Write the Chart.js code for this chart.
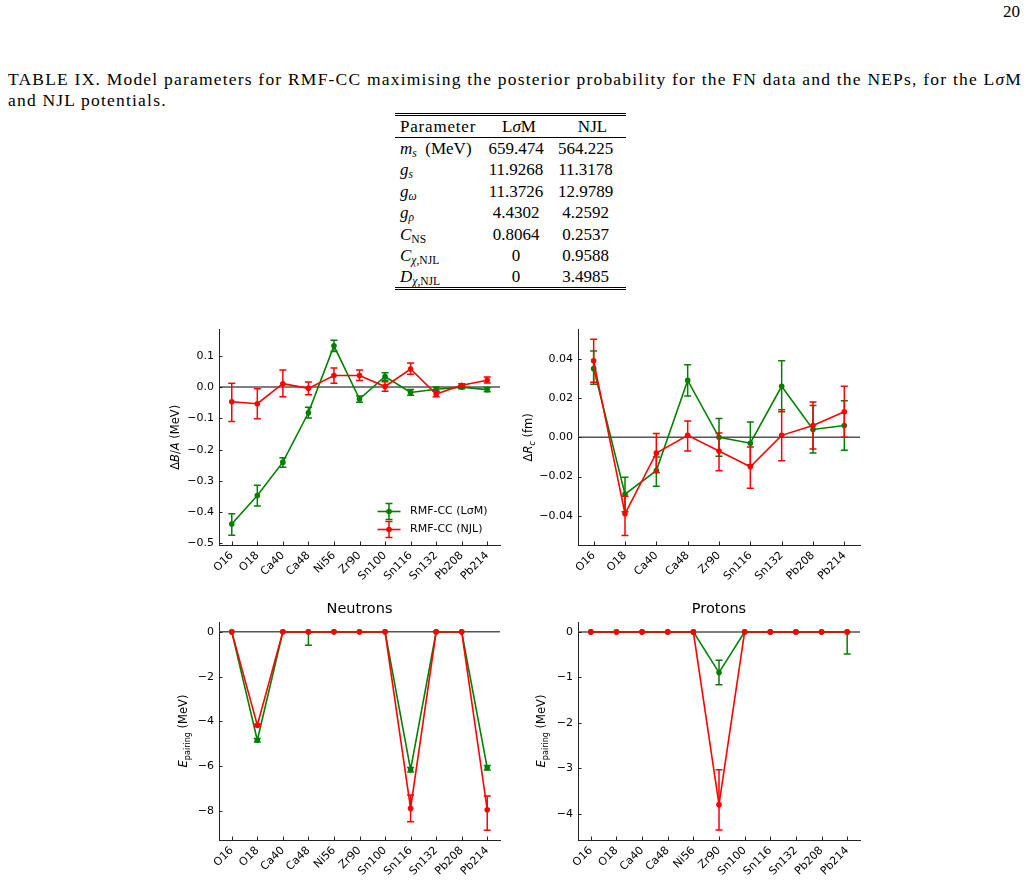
<!DOCTYPE html>
<html>
<head>
<meta charset="utf-8">
<script src="https://cdn.jsdelivr.net/npm/chart.js@4.4.1/dist/chart.umd.min.js"></script>
<style>
  body { margin: 0; background: #fff; width: 1028px; height: 882px; overflow: hidden; position: relative; font-family: "Liberation Serif", serif; color: #000; }
  .pg { position: absolute; right: 8px; top: 2px; font-size: 17px; }
  .cap { position: absolute; left: 8px; width: 1014px; font-size: 17.5px; line-height: 20px; letter-spacing: 1.2px; white-space: nowrap; }
  .l1 { top: 69px; text-align: justify; text-align-last: justify; white-space: normal; }
  .l2 { top: 90px; }
  table { position: absolute; left: 395px; top: 113px; width: 231px; border-collapse: collapse; font-size: 17px; border-top: 3px double #000; border-bottom: 3px double #000; }
  td, th { padding: 0; font-weight: normal; white-space: nowrap; line-height: 1; }
  thead tr { height: 23px; border-bottom: 1px solid #000; }
  tbody tr { height: 21.5px; }
  td.p, th.p { text-align: left; padding-left: 5px; }
  td.n, th.n { text-align: center; }
  sub { font-size: 68%; vertical-align: -0.3em; line-height: 0; }
  canvas { position: absolute; }
</style>
</head>
<body>
<div class="pg">20</div>
<div class="cap l1">TABLE IX. Model parameters for RMF-CC maximising the posterior probability for the FN data and the NEPs, for the L<i>σ</i>M</div>
<div class="cap l2">and NJL potentials.</div>

<table id="params">
  <colgroup><col style="width:92px"><col style="width:58px"><col style="width:81px"></colgroup>
  <thead><tr><th class="p" style="letter-spacing:0.8px">Parameter</th><th class="n" style="padding-left:6px">L<i>σ</i>M</th><th class="n" style="padding-left:14px">NJL</th></tr></thead>
  <tbody></tbody>
</table>

<canvas id="cBA" width="360" height="280" style="left:150px;top:318px"></canvas>
<canvas id="cRc" width="360" height="280" style="left:510px;top:318px"></canvas>
<canvas id="cNeu" width="360" height="292" style="left:150px;top:590px"></canvas>
<canvas id="cPro" width="360" height="292" style="left:510px;top:590px"></canvas>

<script>
// table values
const paramNames = [
  '<i>m<sub>s</sub></i>&nbsp; (MeV)', '<i>g<sub>s</sub></i>', '<i>g<sub>ω</sub></i>', '<i>g<sub>ρ</sub></i>',
  '<i>C</i><sub>NS</sub>', '<i>C</i><sub><i>χ</i>,NJL</sub>', '<i>D</i><sub><i>χ</i>,NJL</sub>'
];
const paramLsm = ['659.474', '11.9268', '11.3726', '4.4302', '0.8064', '0', '0'];
const paramNjl = ['564.225', '11.3178', '12.9789', '4.2592', '0.2537', '0.9588', '3.4985'];

// categories
const nuclei = ['O16', 'O18', 'Ca40', 'Ca48', 'Ni56', 'Zr90', 'Sn100', 'Sn116', 'Sn132', 'Pb208', 'Pb214'];
const nucleiRc = ['O16', 'O18', 'Ca40', 'Ca48', 'Zr90', 'Sn116', 'Sn132', 'Pb208', 'Pb214'];

// Delta B/A (MeV)
const baLsm   = [-0.438, -0.347, -0.240, -0.082, 0.132, -0.038, 0.034, -0.017, -0.007, 0.000, -0.008];
const baLsmLo = [0.036, 0.033, 0.016, 0.017, 0.018, 0.010, 0.012, 0.009, 0.007, 0.005, 0.007];
const baLsmHi = [0.033, 0.033, 0.014, 0.018, 0.018, 0.010, 0.012, 0.009, 0.007, 0.005, 0.007];
const baNjl   = [-0.047, -0.053, 0.011, -0.004, 0.037, 0.037, 0.002, 0.058, -0.022, 0.006, 0.022];
const baNjlLo = [0.063, 0.048, 0.042, 0.020, 0.025, 0.016, 0.015, 0.017, 0.009, 0.005, 0.009];
const baNjlHi = [0.059, 0.048, 0.044, 0.020, 0.024, 0.018, 0.015, 0.019, 0.009, 0.005, 0.010];

// Delta R_c (fm)
const rcLsm   = [0.035, -0.029, -0.017, 0.029, 0.000, -0.003, 0.026, 0.004, 0.006];
const rcLsmLo = [0.008, 0.009, 0.008, 0.008, 0.0096, 0.011, 0.013, 0.012, 0.0126];
const rcLsmHi = [0.009, 0.0086, 0.007, 0.008, 0.0096, 0.0108, 0.013, 0.0122, 0.0126];
const rcNjl   = [0.039, -0.039, -0.008, 0.001, -0.007, -0.015, 0.001, 0.006, 0.013];
const rcNjlLo = [0.011, 0.011, 0.010, 0.008, 0.010, 0.011, 0.013, 0.012, 0.013];
const rcNjlHi = [0.011, 0.009, 0.010, 0.0073, 0.0092, 0.010, 0.013, 0.012, 0.013];

// E_pairing neutrons (MeV)
const neuLsm   = [0, -4.84, 0, 0, 0, 0, 0, -6.15, 0, 0, -6.07];
const neuLsmLo = [0, 0.08, 0, 0.6, 0, 0, 0, 0.1, 0, 0, 0.1];
const neuLsmHi = [0, 0.08, 0, 0, 0, 0, 0, 0.1, 0, 0, 0.1];
const neuNjl   = [0, -4.17, 0, 0, 0, 0, 0, -7.88, 0, 0, -7.94];
const neuNjlLo = [0, 0.05, 0, 0, 0, 0, 0, 0.6, 0, 0, 0.91];
const neuNjlHi = [0, 0.05, 0, 0, 0, 0, 0, 0.6, 0, 0, 0.61];

// E_pairing protons (MeV)
const proLsm   = [0, 0, 0, 0, 0, -0.895, 0, 0, 0, 0, 0];
const proLsmLo = [0, 0, 0, 0, 0, 0.27, 0, 0, 0, 0, 0.485];
const proLsmHi = [0, 0, 0, 0, 0, 0.27, 0, 0, 0, 0, 0];
const proNjl   = [0, 0, 0, 0, 0, -3.80, 0, 0, 0, 0, 0];
const proNjlLo = [0, 0, 0, 0, 0, 0.56, 0, 0, 0, 0, 0];
const proNjlHi = [0, 0, 0, 0, 0, 0.77, 0, 0, 0, 0, 0];

// y tick values
const ticksBA = [-0.5, -0.4, -0.3, -0.2, -0.1, 0, 0.1];
const ticksRc = [-0.04, -0.02, 0, 0.02, 0.04];
const ticksNeu = [-8, -6, -4, -2, 0];
const ticksPro = [-4, -3, -2, -1, 0];

const seriesNames = ['RMF-CC (LσM)', 'RMF-CC (NJL)'];

// fill table
const tbody = document.querySelector('#params tbody');
paramNames.forEach((name, i) => {
  const tr = document.createElement('tr');
  tr.innerHTML = '<td class="p">' + name + '</td><td class="n">' + paramLsm[i] + '</td><td class="n">' + paramNjl[i] + '</td>';
  tbody.appendChild(tr);
});

const GREEN = '#008000';
const RED = '#ff0000';
const SANS = '"DejaVu Sans", sans-serif';

function fmt(v, dec) {
  if (Math.abs(v) < 1e-9) return (0).toFixed(dec);
  return (v < 0 ? '\u2212' : '') + Math.abs(v).toFixed(dec);
}

function drawErrorBar(ctx, x, yl, yh, color) {
  ctx.strokeStyle = color;
  ctx.lineWidth = 1.5;
  ctx.beginPath();
  ctx.moveTo(x, yl); ctx.lineTo(x, yh);
  ctx.moveTo(x - 3.5, yl); ctx.lineTo(x + 3.5, yl);
  ctx.moveTo(x - 3.5, yh); ctx.lineTo(x + 3.5, yh);
  ctx.stroke();
}

function drawRich(ctx, segs, cx, cy, size) {
  const fontFor = s => (s[1] === 'i' || s[1] === 'isub' ? 'italic ' : '') +
    (s[1].endsWith('sub') ? size * 0.7 : size) + 'px ' + SANS;
  ctx.save();
  ctx.translate(cx, cy);
  ctx.rotate(-Math.PI / 2);
  let total = 0;
  segs.forEach(s => { ctx.font = fontFor(s); total += ctx.measureText(s[0]).width; });
  let x = -total / 2;
  ctx.textBaseline = 'alphabetic';
  ctx.textAlign = 'left';
  ctx.fillStyle = '#000';
  segs.forEach(s => {
    ctx.font = fontFor(s);
    const dy = size * 0.36 + (s[1].endsWith('sub') ? size * 0.22 : 0);
    ctx.fillText(s[0], x, dy);
    x += ctx.measureText(s[0]).width;
  });
  ctx.restore();
}

function decorPlugin(cfg) {
  return {
    id: 'decor',
    beforeDatasetsDraw(chart) {
      const { ctx, chartArea: a } = chart;
      const y0 = chart.scales.y.getPixelForValue(0);
      ctx.save();
      ctx.strokeStyle = '#555';
      ctx.lineWidth = 1.5;
      ctx.beginPath();
      ctx.moveTo(a.left, y0); ctx.lineTo(a.right, y0);
      ctx.stroke();
      ctx.restore();
    },
    beforeDatasetDraw(chart, args) {
      const ds = chart.data.datasets[args.index];
      const y = chart.scales.y;
      const ctx = chart.ctx;
      ctx.save();
      args.meta.data.forEach((pt, i) => {
        const lo = ds.errLo[i], hi = ds.errHi[i];
        if (!lo && !hi) return;
        const v = ds.data[i];
        drawErrorBar(ctx, pt.x, y.getPixelForValue(v - lo), y.getPixelForValue(v + hi), ds.borderColor);
      });
      ctx.restore();
    },
    afterDraw(chart) {
      const { ctx, chartArea: a, scales: { x, y } } = chart;
      ctx.save();
      // inward ticks
      ctx.strokeStyle = '#222';
      ctx.lineWidth = 1;
      ctx.beginPath();
      y.ticks.forEach(t => {
        const py = Math.round(y.getPixelForValue(t.value)) + 0.5;
        ctx.moveTo(a.left, py); ctx.lineTo(a.left + 3.5, py);
      });
      x.ticks.forEach((t, i) => {
        const px = Math.round(x.getPixelForTick(i)) + 0.5;
        ctx.moveTo(px, a.bottom); ctx.lineTo(px, a.bottom - 3.5);
      });
      ctx.stroke();
      ctx.restore();

      drawRich(ctx, cfg.yTitle, a.left - cfg.yTitleOff, (a.top + a.bottom) / 2, 11.5);

      if (cfg.title) {
        ctx.save();
        ctx.font = '14.5px ' + SANS;
        ctx.fillStyle = '#000';
        ctx.textAlign = 'center';
        ctx.textBaseline = 'middle';
        ctx.fillText(cfg.title, (a.left + a.right) / 2, a.top - 13);
        ctx.restore();
      }

      if (cfg.legend) {
        ctx.save();
        const hx = a.right - 111;
        [a.bottom - 33.5, a.bottom - 15.5].forEach((ly, k) => {
          const color = k === 0 ? GREEN : RED;
          ctx.strokeStyle = color;
          ctx.lineWidth = 1.6;
          ctx.beginPath();
          ctx.moveTo(hx - 11.5, ly); ctx.lineTo(hx + 11.5, ly);
          ctx.stroke();
          drawErrorBar(ctx, hx, ly + 8, ly - 8, color);
          ctx.fillStyle = color;
          ctx.beginPath();
          ctx.arc(hx, ly, 2.8, 0, Math.PI * 2);
          ctx.fill();
          ctx.fillStyle = '#000';
          ctx.font = '11px ' + SANS;
          ctx.textBaseline = 'middle';
          ctx.textAlign = 'left';
          ctx.fillText(seriesNames[k], a.right - 90, ly);
        });
        ctx.restore();
      }
    }
  };
}

function series(label, color, data, lo, hi, order) {
  return {
    label: label, data: data, errLo: lo, errHi: hi, order: order,
    borderColor: color, backgroundColor: color,
    pointBackgroundColor: color, pointBorderWidth: 0, pointRadius: 2.8,
    borderWidth: 1.6, tension: 0, fill: false
  };
}

function makeChart(id, cfg) {
  const tickFont = { family: SANS, size: 11 };
  return new Chart(document.getElementById(id), {
    type: 'line',
    data: {
      labels: cfg.labels,
      datasets: [
        series(seriesNames[0], GREEN, cfg.lsm[0], cfg.lsm[1], cfg.lsm[2], 1),
        series(seriesNames[1], RED, cfg.njl[0], cfg.njl[1], cfg.njl[2], 0)
      ]
    },
    options: {
      responsive: false,
      animation: false,
      events: [],
      layout: { padding: { top: cfg.padTop, right: 10, left: 0, bottom: 0 } },
      plugins: { legend: { display: false }, tooltip: { enabled: false }, title: { display: false } },
      scales: {
        x: {
          type: 'category',
          offset: true,
          grid: { display: false, drawTicks: false },
          border: { display: true, color: '#222', width: 1 },
          ticks: { color: '#000', font: tickFont, maxRotation: 45, minRotation: 45, autoSkip: false, padding: 4 },
          afterFit(s) { s.height = cfg.xHeight; }
        },
        y: {
          min: cfg.yMin,
          max: cfg.yMax,
          grid: { display: false, drawTicks: false },
          border: { display: true, color: '#222', width: 1 },
          ticks: { color: '#000', font: tickFont, padding: 5, callback: v => fmt(v, cfg.dec) },
          afterBuildTicks(s) { s.ticks = cfg.yTicks.map(v => ({ value: v })); },
          afterFit(s) { s.width = cfg.yWidth; }
        }
      }
    },
    plugins: [decorPlugin(cfg)]
  });
}

makeChart('cBA', {
  labels: nuclei, lsm: [baLsm, baLsmLo, baLsmHi], njl: [baNjl, baNjlLo, baNjlHi],
  yMin: -0.505, yMax: 0.184, yTicks: ticksBA, dec: 1,
  padTop: 10, xHeight: 53, yWidth: 69,
  yTitle: [['Δ', ''], ['B', 'i'], ['/', ''], ['A', 'i'], [' (MeV)', '']], yTitleOff: 44,
  legend: true
});

makeChart('cRc', {
  labels: nucleiRc, lsm: [rcLsm, rcLsmLo, rcLsmHi], njl: [rcNjl, rcNjlLo, rcNjlHi],
  yMin: -0.0549, yMax: 0.0549, yTicks: ticksRc, dec: 2,
  padTop: 10, xHeight: 53, yWidth: 68,
  yTitle: [['Δ', ''], ['R', 'i'], ['c', 'isub'], [' (fm)', '']], yTitleOff: 50
});

makeChart('cNeu', {
  labels: nuclei, lsm: [neuLsm, neuLsmLo, neuLsmHi], njl: [neuNjl, neuNjlLo, neuNjlHi],
  yMin: -9.29, yMax: 0.44, yTicks: ticksNeu, dec: 0,
  padTop: 32, xHeight: 42, yWidth: 69,
  yTitle: [['E', 'i'], ['pairing', 'sub'], [' (MeV)', '']], yTitleOff: 36,
  title: 'Neutrons'
});

makeChart('cPro', {
  labels: nuclei, lsm: [proLsm, proLsmLo, proLsmHi], njl: [proNjl, proNjlLo, proNjlHi],
  yMin: -4.578, yMax: 0.218, yTicks: ticksPro, dec: 0,
  padTop: 32, xHeight: 42, yWidth: 68,
  yTitle: [['E', 'i'], ['pairing', 'sub'], [' (MeV)', '']], yTitleOff: 37,
  title: 'Protons'
});
</script>
</body>
</html>
